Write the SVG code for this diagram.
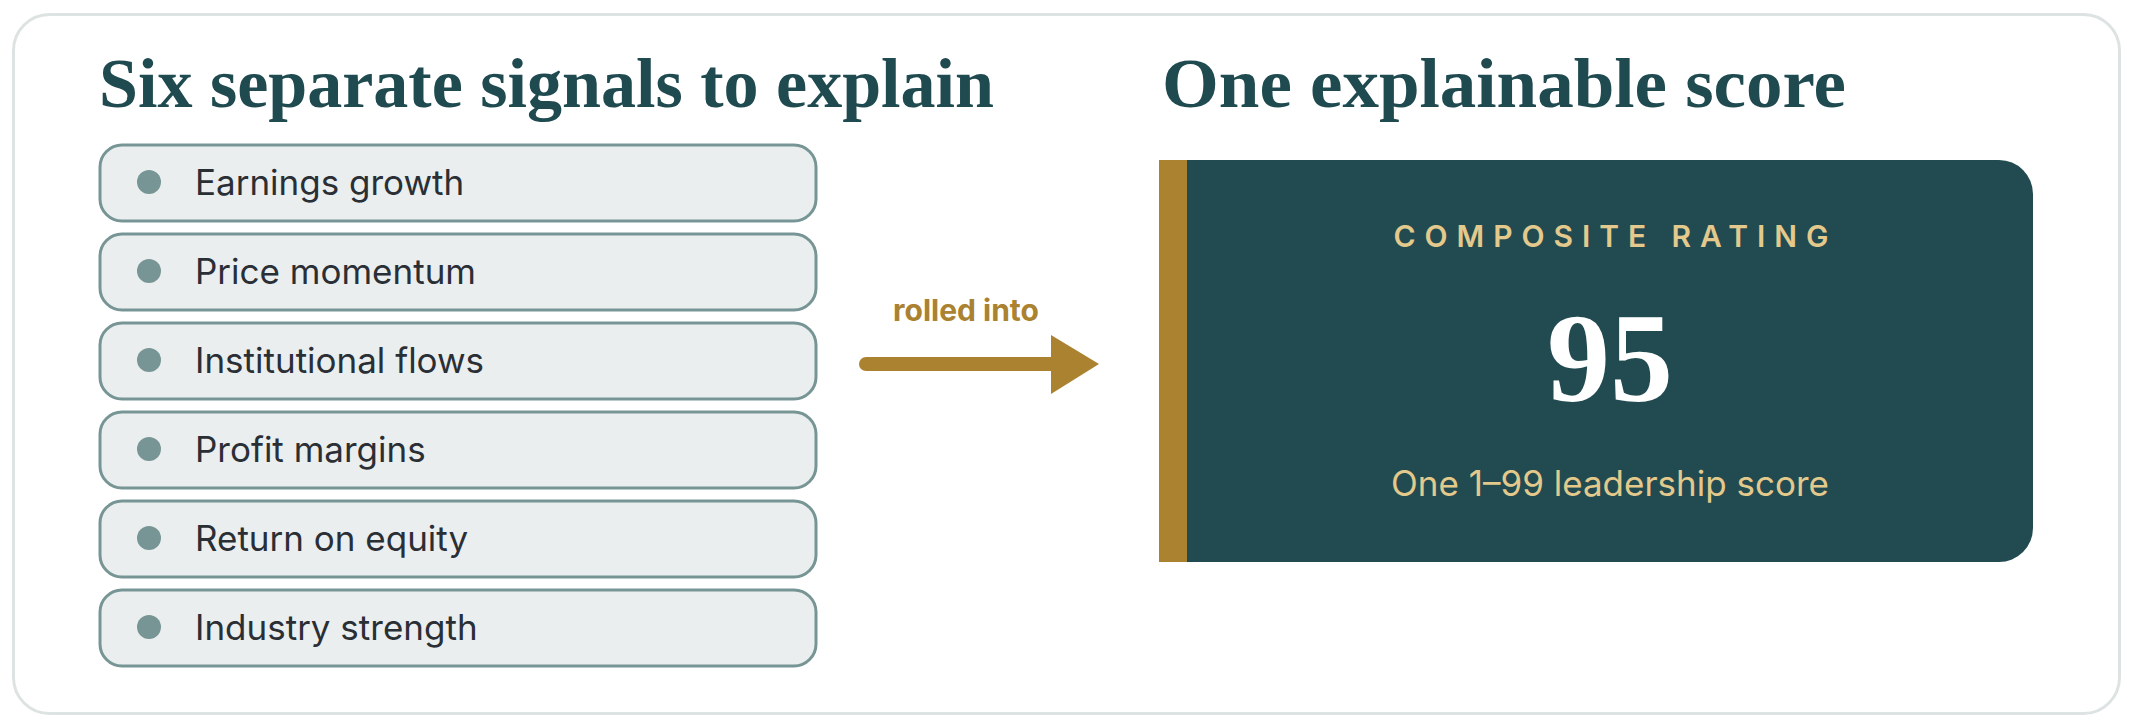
<svg xmlns="http://www.w3.org/2000/svg" width="2134" height="726" viewBox="0 0 2134 726">
<style>
.title{font-family:"Liberation Serif","DejaVu Serif",serif;font-weight:bold;font-size:70px;fill:#1f4a50}
.pill{fill:#eaeeee;stroke:#789595;stroke-width:3}
.dot{fill:#789595}
.item{font-family:Inter,"Liberation Sans",sans-serif;font-size:35px;fill:#2a2f36}
.gold{fill:#aa8230}
.lbl{font-family:Inter,"Liberation Sans",sans-serif;font-weight:bold;font-size:30px;fill:#aa8230}
.cap{font-family:Inter,"Liberation Sans",sans-serif;font-weight:600;font-size:30px;fill:#e3c98b}
.big{font-family:"Liberation Serif","DejaVu Serif",serif;font-weight:bold;font-size:126px;fill:#ffffff}
.sub{font-family:Inter,"Liberation Sans",sans-serif;font-size:35px;fill:#e3c98b}
</style>
<rect x="0" y="0" width="2134" height="726" fill="#ffffff"/>
<rect id="card" x="13.5" y="14.5" width="2106" height="699" rx="36" fill="#ffffff" stroke="#dde3e2" stroke-width="3"/>
<text class="title" x="99" y="107" textLength="895" lengthAdjust="spacingAndGlyphs">Six separate signals to explain</text>
<text class="title" x="1162" y="107" textLength="684" lengthAdjust="spacingAndGlyphs">One explainable score</text>
<g id="signal-1"><rect class="pill" x="100" y="145" width="716" height="76" rx="22"/><circle class="dot" cx="149" cy="182" r="12"/><text class="item" x="195" y="195">Earnings growth</text></g>
<g id="signal-2"><rect class="pill" x="100" y="234" width="716" height="76" rx="22"/><circle class="dot" cx="149" cy="271" r="12"/><text class="item" x="195" y="284">Price momentum</text></g>
<g id="signal-3"><rect class="pill" x="100" y="323" width="716" height="76" rx="22"/><circle class="dot" cx="149" cy="360" r="12"/><text class="item" x="195" y="373">Institutional flows</text></g>
<g id="signal-4"><rect class="pill" x="100" y="412" width="716" height="76" rx="22"/><circle class="dot" cx="149" cy="449" r="12"/><text class="item" x="195" y="462">Profit margins</text></g>
<g id="signal-5"><rect class="pill" x="100" y="501" width="716" height="76" rx="22"/><circle class="dot" cx="149" cy="538" r="12"/><text class="item" x="195" y="551">Return on equity</text></g>
<g id="signal-6"><rect class="pill" x="100" y="590" width="716" height="76" rx="22"/><circle class="dot" cx="149" cy="627" r="12"/><text class="item" x="195" y="640">Industry strength</text></g>
<g id="connectors">
<line x1="866" y1="364" x2="1055" y2="364" stroke="#aa8230" stroke-width="14" stroke-linecap="round"/>
<polygon class="gold" points="1051,335 1099,364 1051,394"/>
<text class="lbl" x="966" y="321" text-anchor="middle">rolled into</text>
</g>
<g id="composite">
<path d="M1187,160 H1999 A34,34 0 0 1 2033,194 V528 A34,34 0 0 1 1999,562 H1187 Z" fill="#214b51"/>
<rect class="gold" x="1159" y="160" width="28" height="402"/>
<text class="cap" x="1611" y="247" text-anchor="middle" textLength="435" lengthAdjust="spacing">COMPOSITE RATING</text>
<text class="big" x="1610" y="401" text-anchor="middle">95</text>
<text class="sub" x="1610" y="496" text-anchor="middle">One 1–99 leadership score</text>
</g>
</svg>
